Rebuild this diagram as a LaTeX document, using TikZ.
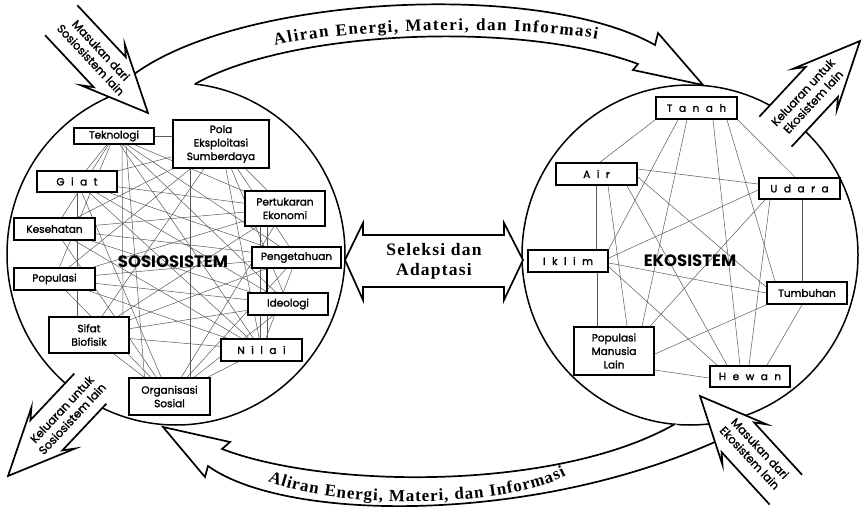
\documentclass[tikz,border=0pt]{standalone}
\usepackage{fontspec}
\setmainfont{Liberation Serif}
\newfontfamily\popf{Poppins}[FakeBold=1.6]
\newfontfamily\poplbl{Poppins}
\usetikzlibrary{decorations.text}
\pgfdeclarelayer{edges}
\pgfsetlayers{edges,main}
\newcommand\lsx{\hspace{6.5pt}}
\tikzset{
  bx/.style={draw, line width=1.7pt, fill=white, inner sep=0pt, align=center,
    font=\popf\fontsize{10.5}{13.5}\selectfont},
  gl/.style={draw=black!65, line width=0.5pt},
  ol/.style={line width=1.7pt, line join=miter, miter limit=20},
  atext/.style={font=\popf\fontsize{11.5}{14}\selectfont, align=center},
  lbl/.style={font=\poplbl\bfseries\fontsize{16.5}{18}\selectfont},
  serifb/.style={font=\bfseries\fontsize{17.5}{20}\selectfont\addfontfeature{LetterSpace=7}, align=center},
  pics/fatarrow/.style={code={
    \fill[white] (-#1,-22) -- (-56,-22) -- (-66,-30) -- (0,0) -- (-66,30) -- (-56,22) -- (-#1,22) -- cycle;
    \draw[ol] (-#1,-22) -- (-56,-22) -- (-66,-30) -- (0,0) -- (-66,30) -- (-56,22) -- (-#1,22);
  }},
}
\begin{document}
\begin{tikzpicture}[x=1pt,y=-1pt]
\useasboundingbox (0,0) rectangle (862,508);
% circles
\draw[line width=1.5pt] (176,254) ellipse [x radius=169pt, y radius=171pt];
\draw[line width=1.5pt] (690,255) ellipse [x radius=168pt, y radius=170pt];

% left boxes
\node[bx, minimum width=80pt, minimum height=16pt] (tek) at (114,136) {Teknologi};
\node[bx, minimum width=96pt, minimum height=48pt] (pola) at (221,144) {Pola\\Eksploitasi\\Sumberdaya};
\node[bx, minimum width=80pt, minimum height=21pt] (giat) at (77,181.5) {G\lsx i\lsx a\lsx t};
\node[bx, minimum width=80pt, minimum height=35pt] (pert) at (285,208.5) {Pertukaran\\Ekonomi};
\node[bx, minimum width=81pt, minimum height=22pt] (kes) at (54.5,229) {Kesehatan};
\node[bx, minimum width=89pt, minimum height=21pt] (peng) at (296.5,257.5) {Pengetahuan};
\node[bx, minimum width=81pt, minimum height=22pt] (pop) at (54.5,279) {Populasi};
\node[bx, minimum width=80pt, minimum height=22pt] (ideo) at (288,304) {Ideologi};
\node[bx, minimum width=80pt, minimum height=36pt] (sifat) at (89,335) {Sifat\\Biofisik};
\node[bx, minimum width=81pt, minimum height=22pt] (nilai) at (261.5,350) {N\lsx i\lsx l\lsx a\lsx i};
\node[bx, minimum width=81pt, minimum height=37pt] (org) at (169.5,396.5) {Organisasi\\Sosial};
% right boxes
\node[bx, minimum width=81pt, minimum height=22pt] (tanah) at (696.5,108) {T\lsx a\lsx n\lsx a\lsx h};
\node[bx, minimum width=81pt, minimum height=22pt] (air) at (596.5,174) {A\lsx i\lsx r};
\node[bx, minimum width=81pt, minimum height=21pt] (udara) at (799.5,188.5) {U\lsx d\lsx a\lsx r\lsx a};
\node[bx, minimum width=80pt, minimum height=22pt] (iklim) at (568,261) {I\lsx k\lsx l\lsx i\lsx m};
\node[bx, minimum width=80pt, minimum height=22pt] (tumb) at (807,293) {Tumbuhan};
\node[bx, minimum width=80pt, minimum height=48pt] (popml) at (614,351) {Populasi\\Manusia\\Lain};
\node[bx, minimum width=80pt, minimum height=21pt] (hewan) at (750,376.5) {H\lsx e\lsx w\lsx a\lsx n};

\node[lbl] (soslbl) at (173,262) {SOSIOSISTEM};
\node[lbl] (ekolbl) at (690,261) {EKOSISTEM};

\begin{pgfonlayer}{edges}
% left graph, centre to centre
\foreach \a/\b in {tek/giat,tek/pert,tek/kes,tek/peng,tek/pop,tek/ideo,tek/nilai,
  pola/giat,pola/pert,pola/kes,pola/peng,pola/pop,pola/ideo,pola/sifat,pola/nilai,
  giat/pert,giat/peng,giat/ideo,giat/nilai,giat/org,
  pert/kes,pert/pop,pert/sifat,pert/org,
  kes/peng,kes/ideo,kes/nilai,kes/org,
  peng/pop,peng/sifat,peng/nilai,peng/org,
  pop/ideo,pop/nilai,pop/org,
  ideo/sifat,ideo/org,
  sifat/nilai,sifat/org,
  nilai/org}
  \draw[gl] (\a.center) -- (\b.center);
% left graph, straight runs
\draw[gl] (tek.east) -- (tek.east -| pola.west);
\draw[gl] (giat.south) -- (giat.south |- kes.north);
\draw[gl] (giat.south) -- (giat.south |- pop.north);
\draw[gl] (giat.south) -- (giat.south |- sifat.north);
\draw[gl] (giat.south |- kes.south) -- (giat.south |- pop.north);
\draw[gl] (giat.south |- kes.south) -- (giat.south |- sifat.north);
\draw[gl] (giat.south |- pop.south) -- (giat.south |- sifat.north);
\draw[gl] ([xshift=-31pt]pola.south) -- ([xshift=-31pt]pola.south |- org.north);
\draw[gl] ([xshift=8pt]tek.south) -- ([xshift=34pt]sifat.north);
\draw[gl] ([xshift=12pt]tek.south) -- ([xshift=-25pt]org.north);
\draw[gl] ([xshift=-25pt]pert.south) -- ([xshift=-25pt]pert.south |- peng.north);
\draw[gl] ([xshift=-25pt]pert.south) -- ([xshift=-25pt]pert.south |- nilai.north);
\draw[gl] ([xshift=-18pt]pert.south) -- ([xshift=-18pt]pert.south |- ideo.north);
\draw[gl] ([xshift=-21pt]ideo.south) -- ([xshift=-21pt]ideo.south |- nilai.north);
% right graph
\draw[gl] (tanah.south west) -- ([xshift=3.5pt]air.north);
\draw[gl] ([xshift=-18.5pt]tanah.south) -- (iklim.north east);
\draw[gl] ([xshift=-9.5pt]tanah.south) -- ([xshift=28pt]popml.north);
\draw[gl] ([xshift=16.5pt]tanah.south) -- ([xshift=-10pt]hewan.north);
\draw[gl] ([xshift=30.5pt]tanah.south) -- ([xshift=-32pt]tumb.north);
\draw[gl] (tanah.south east) -- ([xshift=-4.5pt]udara.north);
\draw[gl] ([yshift=5pt]air.east) -- ([yshift=4.5pt]udara.west);
\draw[gl] (air.south) -- (air.south |- iklim.north);
\draw[gl] ([xshift=11.5pt]air.south) -- ([xshift=13pt]popml.north);
\draw[gl] ([xshift=30.5pt]air.south) -- ([xshift=-23pt]hewan.north);
\draw[gl] ([yshift=-3pt]air.east) -- ([yshift=6pt]tumb.west);
\draw[gl] ([yshift=-1.5pt]udara.west) -- ([yshift=3pt]iklim.east);
\draw[gl] ([xshift=-34.5pt]udara.south) -- ([xshift=36pt]popml.north);
\draw[gl] ([xshift=-29.5pt]udara.south) -- ([xshift=-1pt]hewan.north);
\draw[gl] ([xshift=2.5pt]udara.south) -- ([xshift=2.5pt]udara.south |- tumb.north);
\draw[gl] ([yshift=-2pt]iklim.east) -- (tumb.west);
\draw[gl] ([yshift=-6pt]iklim.east) -- ([xshift=-33pt]hewan.north);
\draw[gl] ([xshift=29pt]iklim.south) -- ([xshift=29pt]iklim.south |- popml.north);
\draw[gl] (tumb.south west) -- ([yshift=-3pt]popml.east);
\draw[gl] ([xshift=-5pt]tumb.south) -- ([xshift=17pt]hewan.north);
\draw[gl] ([yshift=-19pt]popml.east) -- ([yshift=-1.5pt]hewan.west);
\end{pgfonlayer}
\draw[line width=2pt] ([xshift=-29.5pt]peng.south) -- ([xshift=-29.5pt]peng.south |- ideo.north);

% top band
\fill[white] (133,75) .. controls (240,-5) and (540,-20) .. (655,45) -- (658,33) -- (703,85) -- (633,70) -- (638,64)
  .. controls (520,20) and (290,30) .. (195,84) -- (172,98) -- (128,88) -- cycle;
\draw[ol] (133,75) .. controls (240,-5) and (540,-20) .. (655,45) -- (658,33) -- (703,85) -- (633,70) -- (638,64)
  .. controls (520,20) and (290,30) .. (195,84);
\path[decorate, decoration={text along path, text align={fit to path},
  text={|\bfseries\fontsize{17}{20}\selectfont|Aliran Energi, Materi, dan Informasi}}]
  (275,46) .. controls (330,30) and (515,24) .. (597,39);

% bottom band
\fill[white] (675,424) .. controls (560,490) and (330,490) .. (222,449) -- (230,442) -- (163,427) -- (205,477) -- (208,466)
  .. controls (290,525) and (560,525) .. (750,425) -- (700,436) -- cycle;
\draw[ol] (675,424) .. controls (560,490) and (330,490) .. (222,449) -- (230,442) -- (163,427) -- (205,477) -- (208,466)
  .. controls (290,525) and (560,525) .. (750,425);
\path[decorate, decoration={text along path, text align={fit to path},
  text={|\bfseries\fontsize{17}{20}\selectfont|Aliran Energi, Materi, dan Informasi}}]
  (268,481) .. controls (330,508) and (500,510) .. (566,476);

% corner arrows
\pic[rotate=-46.9] at (148,113) {fatarrow=127};
\pic[rotate=47] at (860,41) {fatarrow=124};
\pic[rotate=-133.3] at (8,476) {fatarrow=120};
\pic[rotate=132.5] at (700,396) {fatarrow=127};
\node[atext, rotate=-47] (intl) at (96,55) {Masukan dari\\Sosiosistem lain};
\node[atext, rotate=47] (outtr) at (808,97) {Keluaran untuk\\Ekosistem lain};
\node[atext, rotate=47] (outbl) at (67,414) {Keluaran untuk\\Sosiosistem lain};
\node[atext, rotate=-47] (inbr) at (755,453) {Masukan dari\\Ekosistem lain};

% double arrow
\filldraw[ol, fill=white] (345,260) -- (363,223) -- (363,235) -- (504,235) -- (504,223) -- (523,260)
  -- (504,300) -- (504,287) -- (363,287) -- (363,300) -- cycle;
\node[serifb] (sel) at (434,261) {Seleksi dan\\Adaptasi};
\end{tikzpicture}
\end{document}
